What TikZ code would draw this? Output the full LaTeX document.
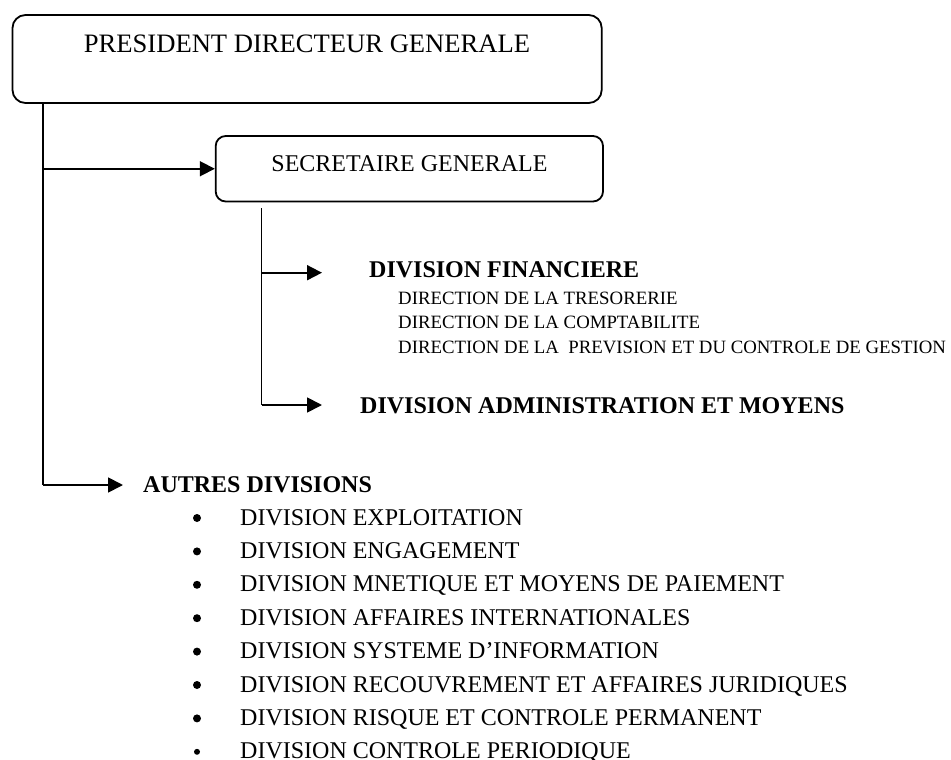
\documentclass[tikz,border=0pt]{standalone}
\usepackage{fontspec}
\setmainfont{Liberation Serif}
\usetikzlibrary{arrows.meta,calc}
\begin{document}
\begin{tikzpicture}[x=1pt,y=-1pt,
  box/.style={draw,line width=1.8pt,rounded corners=#1,inner sep=0pt},
  box/.default=12pt,
  conn/.style={line width=1.3pt},
  arr/.style={line width=1.8pt,-{Triangle[length=15pt,width=15pt]}},
  t/.style={inner sep=0pt,anchor=base west},
  big/.style={font=\fontsize{26.6}{30}\selectfont},
  mid/.style={font=\fontsize{24}{28}\selectfont},
  bmid/.style={font=\fontsize{24}{28}\selectfont\bfseries},
  small/.style={font=\fontsize{18.8}{22}\selectfont},
  dot/.style={circle,fill=black,inner sep=0pt,minimum size=#1},
  dot/.default=8pt]
\useasboundingbox (0,0) rectangle (951,760);
\fill[white] (0,0) rectangle (951,760);

% boxes
\node[box=13pt,minimum width=589.2pt,minimum height=88pt] (pdg) at (307.1,59) {};
\node[big,inner sep=0pt,anchor=base] (pdgtext) at (307,53) {PRESIDENT DIRECTEUR GENERALE};
\node[box=10pt,minimum width=387.3pt,minimum height=65.5pt] (sg) at (409.35,168.75) {};
\node[mid,inner sep=0pt,anchor=base] (sgtext) at (409.5,171.7) {SECRETAIRE GENERALE};

% division texts
\node[t,bmid] (df) at (369,277) {DIVISION FINANCIERE};
\node[t,small] (d1) at (398,304.3) {DIRECTION DE LA TRESORERIE};
\node[t,small] (d2) at (398,328.7) {DIRECTION DE LA COMPTABILITE};
\node[t,small] (d3) at (398,353.3) {DIRECTION DE LA \ PREVISION ET DU CONTROLE DE GESTION};
\node[t,bmid] (adm) at (360,413) {DIVISION ADMINISTRATION ET MOYENS};
\node[t,bmid] (autres) at (143,492) {AUTRES DIVISIONS};

% list
\foreach \i/\txt in {0/{DIVISION EXPLOITATION},
                      1/{DIVISION ENGAGEMENT},
                      2/{DIVISION MNETIQUE ET MOYENS DE PAIEMENT},
                      3/{DIVISION AFFAIRES INTERNATIONALES},
                      4/{DIVISION SYSTEME D’INFORMATION},
                      5/{DIVISION RECOUVREMENT ET AFFAIRES JURIDIQUES},
                      6/{DIVISION RISQUE ET CONTROLE PERMANENT}}{
  \node[t,mid] (item\i) at (240,525+33.4*\i) {\txt};
  \node[dot] (bul\i) at (197,518+33.4*\i) {};
}
\node[t,mid] (item7) at (240,758.8) {DIVISION CONTROLE PERIODIQUE};
\node[dot=6pt] (bul7) at (197,751.8) {};

% connectors
\coordinate (trunkEnd) at (43,485);
\draw[conn] (pdg.south -| trunkEnd) -- (trunkEnd);
\draw[arr] (trunkEnd |- sg.west) -- (sg.west);
\draw[arr] (trunkEnd) -- ($(autres.base west)+(-20,-7)$);

\coordinate (sgTop) at (261.5,208);
\coordinate (sgEnd) at (261.5,405);
\draw[conn] (sgTop) -- (sgEnd);
\draw[arr] (sgTop |- 0,272.7) -- ($(df.base west)+(-47,-4.3)$);
\draw[arr] (sgEnd) -- ($(adm.base west)+(-38,-8)$);
\end{tikzpicture}
\end{document}
